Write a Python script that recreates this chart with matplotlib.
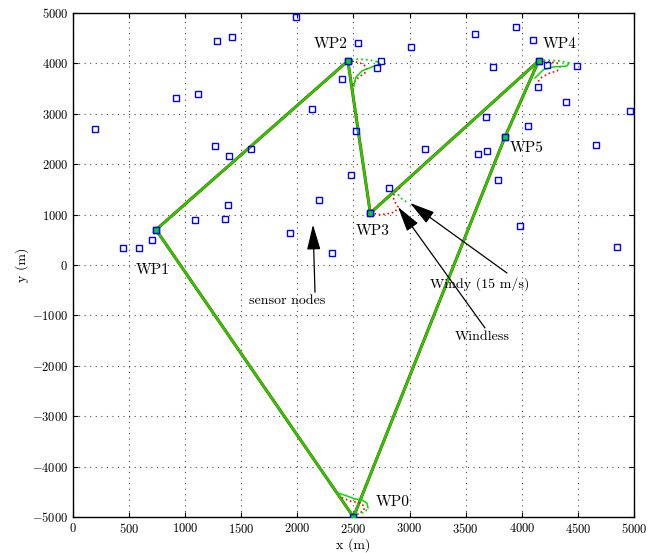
import numpy as np
import matplotlib.pyplot as plt

plt.rcParams['font.family'] = ['cmr10', 'DejaVu Serif']
plt.rcParams['mathtext.fontset'] = 'cm'
plt.rcParams['axes.formatter.use_mathtext'] = True

# waypoints WP0..WP5
wp_x = [2500, 740, 2450, 2650, 4150, 3850]
wp_y = [-5000, 700, 4050, 1030, 4050, 2540]
wp_names = ['WP0', 'WP1', 'WP2', 'WP3', 'WP4', 'WP5']
label_x = [2850, 710, 2300, 2675, 4340, 4040]
label_y = [-4700, -100, 4385, 675, 4385, 2320]

# sensor nodes
sx = [1990, 2540, 1283, 1417, 3012, 3583, 3948, 4100, 4225, 4492, 3743, 2745,
      2709, 2398, 4144, 4394, 4964, 1114, 918, 196, 2130, 2522, 3681, 4055,
      4661, 1265, 1390, 1586, 3137, 3610, 3690, 3788, 2478, 2816, 2193, 2308,
      1934, 1355, 1381, 1087, 3984, 740, 704, 446, 588, 4848, 2450, 2650, 4150, 3850]
sy = [4920, 4400, 4444, 4524, 4325, 4583, 4722, 4464, 3968, 3948, 3929, 4048,
      3909, 3690, 3532, 3234, 3056, 3393, 3313, 2698, 3095, 2659, 2937, 2758,
      2381, 2361, 2163, 2302, 2302, 2202, 2262, 1687, 1786, 1528, 1290, 238,
      635, 913, 1190, 893, 774, 700, 496, 337, 337, 357, 4050, 1030, 4050, 2540]

# turning loops, windless (red dotted)
calm2_x = [2442, 2522, 2585, 2620, 2602, 2549, 2513, 2496]
calm2_y = [4048, 4028, 3988, 3909, 3810, 3730, 3651, 3552]
calm3_x = [2647, 2736, 2799, 2870, 2897, 2870, 2852, 2870, 2914]
calm3_y = [1032, 1000, 1012, 1052, 1151, 1250, 1349, 1448, 1528]
calm4_x = [4153, 4250, 4314, 4340, 4314, 4251, 4180, 4135]
calm4_y = [4048, 4030, 4008, 3929, 3849, 3810, 3730, 3611]
calm0_x = [2495, 2558, 2594, 2594, 2558, 2469, 2380]
calm0_y = [-5000, -4921, -4861, -4782, -4722, -4683, -4603]

# turning loops, windy 15 m/s (green)
wind2_x = [2442, 2540, 2647, 2718, 2736, 2665, 2576, 2522, 2504]
wind2_y = [4048, 4087, 4067, 4028, 3988, 3929, 3849, 3730, 3552]
wind3_x = [2879, 2906, 2941, 2995]
wind3_y = [1488, 1369, 1290, 1230]
wind4_x = [4153, 4225, 4340, 4421, 4403, 4278, 4189, 4118]
wind4_y = [4048, 4067, 4048, 4008, 3948, 3929, 3869, 3710]
wind0_x = [2495, 2540, 2602, 2629, 2620, 2576, 2513, 2442, 2362]
wind0_y = [-5000, -4940, -4901, -4821, -4722, -4663, -4643, -4583, -4524]

green = '#00dd00'

fig = plt.figure(figsize=(6.54, 5.53), dpi=100)
ax = fig.add_axes([0.1116, 0.0651, 0.8578, 0.9114])

order = [0, 1, 2, 3, 4, 5, 0]
px = [wp_x[i] for i in order]
py = [wp_y[i] for i in order]
ax.plot(px, py, color='r', lw=2.2, zorder=2)
ax.plot(px, py, color=green, lw=1.7, zorder=3)

for lx, ly in [(calm2_x, calm2_y), (calm3_x, calm3_y), (calm4_x, calm4_y), (calm0_x, calm0_y)]:
    ax.plot(lx, ly, color='r', ls=':', lw=1.2, zorder=3)
for lx, ly in [(wind2_x, wind2_y), (wind3_x, wind3_y), (wind4_x, wind4_y), (wind0_x, wind0_y)]:
    ax.plot(lx[:4], ly[:4], color=green, ls=':', lw=1.3, zorder=3)
    ax.plot(lx[3:], ly[3:], color=green, ls='-', lw=1.1, zorder=3)

ax.plot(sx, sy, 's', mfc='none', mec='b', ms=5, mew=1, zorder=4)
ax.plot(wp_x, wp_y, 's', mfc=green, mec='b', ms=5, mew=1, zorder=5)

for n, tx, ty in zip(wp_names, label_x, label_y):
    ax.text(tx, ty, n, fontsize=11, ha='center', va='center')

arrow = dict(arrowstyle='-|>,head_length=1.3,head_width=0.35', color='k', lw=0.9,
             shrinkA=0, shrinkB=0, mutation_scale=12)
ax.text(1907, -714, 'sensor nodes', ha='center', va='center', fontsize=10)
ax.annotate('', xy=(2139, 800), xytext=(2157, -540), arrowprops=arrow)
ax.text(3627, -377, 'Windy (15 m/s)', ha='center', va='center', fontsize=10)
ax.annotate('', xy=(3004, 1230), xytext=(3868, -159), arrowprops=arrow)
ax.text(3645, -1429, 'Windless', ha='center', va='center', fontsize=10)
ax.annotate('', xy=(2897, 1151), xytext=(3672, -1250), arrowprops=arrow)

ax.set_xlim(0, 5000)
ax.set_ylim(-5000, 5000)
ax.set_xticks(np.arange(0, 5001, 500))
ax.set_yticks(np.arange(-5000, 5001, 1000))
ax.grid(True, ls=(0, (1, 4)), color='0.3', lw=0.8)
ax.tick_params(direction='in', top=True, right=True, labelsize=9)
ax.set_xlabel('x (m)', fontsize=10, labelpad=2)
ax.set_ylabel('y (m)', fontsize=10, labelpad=2)
for s in ax.spines.values():
    s.set_linewidth(1.0)

fig.savefig('out.png', dpi=100)
